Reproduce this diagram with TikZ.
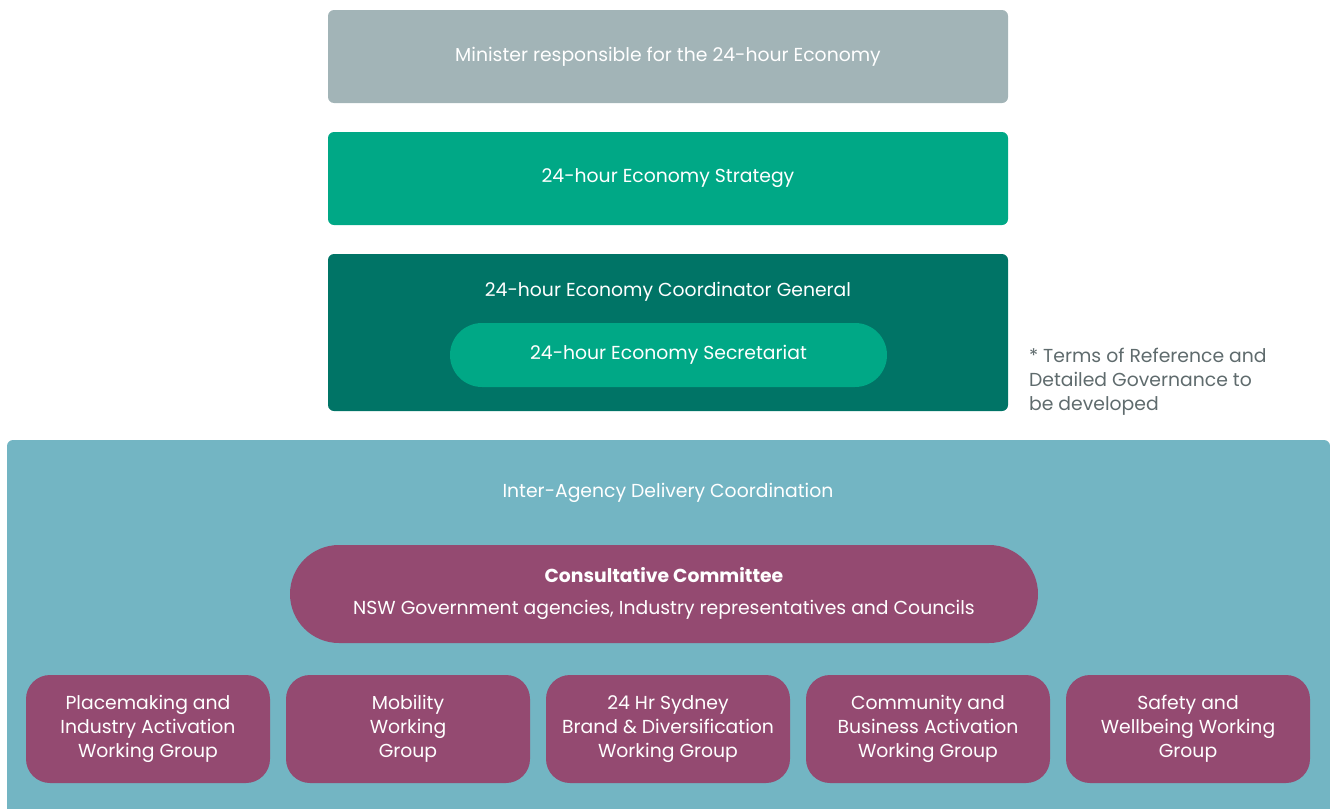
\documentclass[tikz,border=0pt]{standalone}
\usepackage{fontspec}
\setmainfont{Poppins}
\usepackage{xcolor}
\usetikzlibrary{positioning}

\definecolor{ministergray}{HTML}{A2B4B7}
\definecolor{strategygreen}{HTML}{00A886}
\definecolor{coorddark}{HTML}{007466}
\definecolor{deliveryteal}{HTML}{73B5C3}
\definecolor{groupplum}{HTML}{944A71}
\definecolor{notegray}{HTML}{5F6B6D}

\tikzset{
  govbox/.style={rounded corners=3pt, minimum width=340pt, minimum height=46.5pt, inner sep=0pt, text=white, align=center},
  wgroup/.style={fill=groupplum, rounded corners=12pt, minimum width=122pt, minimum height=54pt, inner sep=0pt, text=white, align=center}
}

\begin{document}
\begin{tikzpicture}[x=0.5pt, y=-0.5pt, font=\fontsize{9.4}{12}\selectfont]
        \useasboundingbox (0,0) rectangle (1330,809);

        % Ministerielle Ebene
        \node[govbox, fill=ministergray] (minister) at (668,56.5) {\raisebox{-2pt}{Minister responsible for the 24-hour Economy}};
        \node[govbox, fill=strategygreen] (strategy) at (668,178.5) {\raisebox{-2pt}{24-hour Economy Strategy}};
        \node[govbox, fill=coorddark, minimum height=78.5pt] (coord) at (668,332.5) {};
        \node[text=white] (coordlabel) at (668,292) {24-hour Economy Coordinator General};
        \node[fill=strategygreen, rounded corners=16pt, minimum width=218.5pt, minimum height=32pt, inner sep=0pt, text=white] (secretariat) at (668.5,355) {\raisebox{-2.5pt}{24-hour Economy Secretariat}};
        \node[anchor=north west, align=left, text=notegray] (note) at (1022,341) {* Terms of Reference and\\Detailed Governance to\\be developed};

        % Delivery
        \fill[deliveryteal, rounded corners=3pt] (7,809) -- (7,440) -- (1330,440) [sharp corners] -- (1330,809) -- cycle;
        \node[text=white] (delivery) at (668,493) {Inter-Agency Delivery Coordination};
        \node[fill=groupplum, rounded corners=24.5pt, minimum width=374pt, minimum height=49pt, inner sep=0pt, text=white, align=center] (committee) at (664,594)
            {\textbf{Consultative Committee}\\[4pt]NSW Government agencies, Industry representatives and Councils};

        % Working groups
        \node[wgroup] (placemaking) at (148,729) {Placemaking and\\Industry Activation\\Working Group};
        \node[wgroup] (mobility) at (408,729) {Mobility\\Working\\Group};
        \node[wgroup] (brand) at (668,729) {24 Hr Sydney\\Brand \& Diversification\\Working Group};
        \node[wgroup] (community) at (928,729) {Community and\\Business Activation\\Working Group};
        \node[wgroup] (safety) at (1188,729) {Safety and\\Wellbeing Working\\Group};
    \end{tikzpicture}
\end{document}
